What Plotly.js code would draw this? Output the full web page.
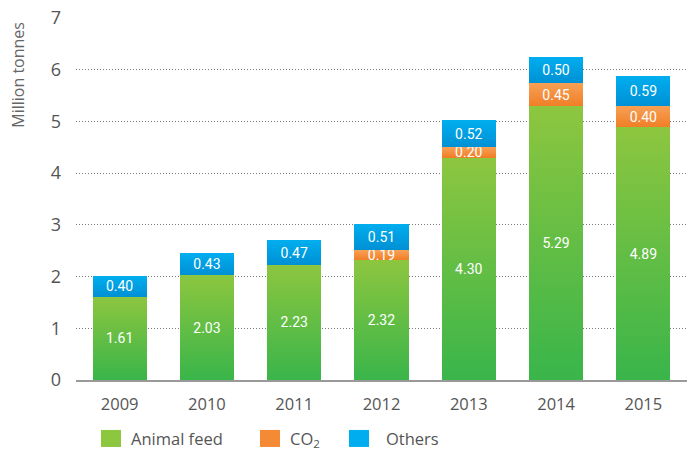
<!DOCTYPE html>
<html><head><meta charset="utf-8">
<script src="https://cdn.plot.ly/plotly-3.0.1.min.js"></script>
<style>html,body{margin:0;padding:0;background:#fff}#chart{width:699px;height:451px}</style>
</head><body><div id="chart"></div>
<script>
const years = ['2009','2010','2011','2012','2013','2014','2015'];
const animalFeed = [1.61, 2.03, 2.23, 2.32, 4.30, 5.29, 4.89];
const co2 = [0, 0, 0, 0.19, 0.20, 0.45, 0.40];
const others = [0.40, 0.43, 0.47, 0.51, 0.52, 0.50, 0.59];
const yTicks = [0,1,2,3,4,5,6,7];
const yTitle = 'Million tonnes';

const textFont = {family: 'Roboto, "Open Sans", sans-serif', size: 14, color: '#ffffff'};

function mk(name, xs, vals, color) {
  const keep = vals.map(v => v > 0);
  const xx = xs.filter((_, i) => keep[i]);
  const yy = vals.filter((_, i) => keep[i]);
  return {
    type: 'bar', name: name, x: xx, y: yy,
    text: yy.map(v => v.toFixed(2)), textposition: 'inside', insidetextanchor: 'middle',
    textfont: textFont, textangle: 0, constraintext: 'none',
    marker: {color: color, line: {width: 0}},
    hoverinfo: 'skip'
  };
}
const traces = [
  mk('Animal feed', years, animalFeed, '#8DC63F'),
  mk('CO<sub>2</sub>', years, co2, '#F58A35'),
  mk('Others', years, others, '#00AEEF')
];
const layout = {
  width: 699, height: 451,
  margin: {l: 76, r: 12, t: 18, b: 71, autoexpand: false},
  barmode: 'stack', bargap: 0.38,
  paper_bgcolor: '#fff', plot_bgcolor: '#fff',
  font: {family: '"Open Sans", sans-serif', color: '#666', size: 16},
  xaxis: {type: 'category', categoryorder: 'array', categoryarray: years, showgrid: false,
          showline: true, linecolor: '#999', linewidth: 2,
          ticks: '', tickfont: {size: 16.5, color: '#555'}, ticklabelstandoff: 8},
  yaxis: {range: [0, 7], tickvals: yTicks, ticktext: yTicks.map(String), showgrid: true,
          gridcolor: '#777', griddash: '1px,2px', gridwidth: 1, zeroline: false, showline: false,
          ticks: '', tickfont: {size: 18, color: '#555'}, ticklabelstandoff: 14},
  annotations: [{text: yTitle, textangle: -90, xref: 'paper', yref: 'paper',
                 x: -0.095, y: 0.995, xanchor: 'center', yanchor: 'top', showarrow: false,
                 font: {size: 16, color: '#666'}}],
  legend: {orientation: 'h', x: 0.03, xref: 'paper', y: 0.066, yref: 'container',
           xanchor: 'left', yanchor: 'top',
           font: {size: 16.5, color: '#555'}, itemwidth: 30, entrywidth: 140, traceorder: 'normal'},
  showlegend: true
};
Plotly.newPlot('chart', traces, layout, {staticPlot: true}).then(gd => {
  const svg = gd.querySelector('svg.main-svg');
  const ns = 'http://www.w3.org/2000/svg';
  let defs = svg.querySelector('defs');
  if (!defs) { defs = document.createElementNS(ns, 'defs'); svg.insertBefore(defs, svg.firstChild); }
  const grads = [['gFeed', '#8DC63F', '#39B54A'], ['gCo2', '#F7A055', '#F07E26'], ['gOth', '#00AEEF', '#0090D4']];
  grads.forEach(([id, c1, c2]) => {
    const g = document.createElementNS(ns, 'linearGradient');
    g.setAttribute('id', id); g.setAttribute('x1', '0'); g.setAttribute('y1', '0');
    g.setAttribute('x2', '0'); g.setAttribute('y2', '1');
    [[0, c1], [1, c2]].forEach(([o, c]) => {
      const s = document.createElementNS(ns, 'stop');
      s.setAttribute('offset', o); s.setAttribute('stop-color', c); g.appendChild(s);
    });
    defs.appendChild(g);
  });
  gd.querySelectorAll('.barlayer .trace').forEach((t, i) => {
    t.querySelectorAll('.point path').forEach(p => { p.style.fill = 'url(#' + grads[i][0] + ')'; });
  });
  // remove legend clipping, enlarge swatches and space entries like the reference
  gd.querySelectorAll('.legend, .legend *').forEach(el => el.removeAttribute('clip-path'));
  const targets = [101, 260, 349];
  const textShift = [0, 0, 7];
  const items = gd.querySelectorAll('.legend .traces');
  items.forEach((it, i) => {
    const p = it.querySelector('.legendpoints path');
    if (!p) return;
    p.setAttribute('d', 'M10,8.5H-10V-8.5H10Z');
    const r = p.getBoundingClientRect();
    const dx = targets[i] - r.left;
    const tr = it.getAttribute('transform') || '';
    const m = tr.match(/translate\(([-\d.]+)[ ,]*([-\d.]*)\)/);
    const x0 = m ? parseFloat(m[1]) : 0, y0 = m && m[2] ? parseFloat(m[2]) : 0;
    it.setAttribute('transform', 'translate(' + (x0 + dx) + ',' + y0 + ')');
    if (textShift[i]) {
      const t = it.querySelector('text.legendtext');
      if (t) t.setAttribute('x', parseFloat(t.getAttribute('x') || 0) + textShift[i]);
    }
  });
});
</script></body></html>
